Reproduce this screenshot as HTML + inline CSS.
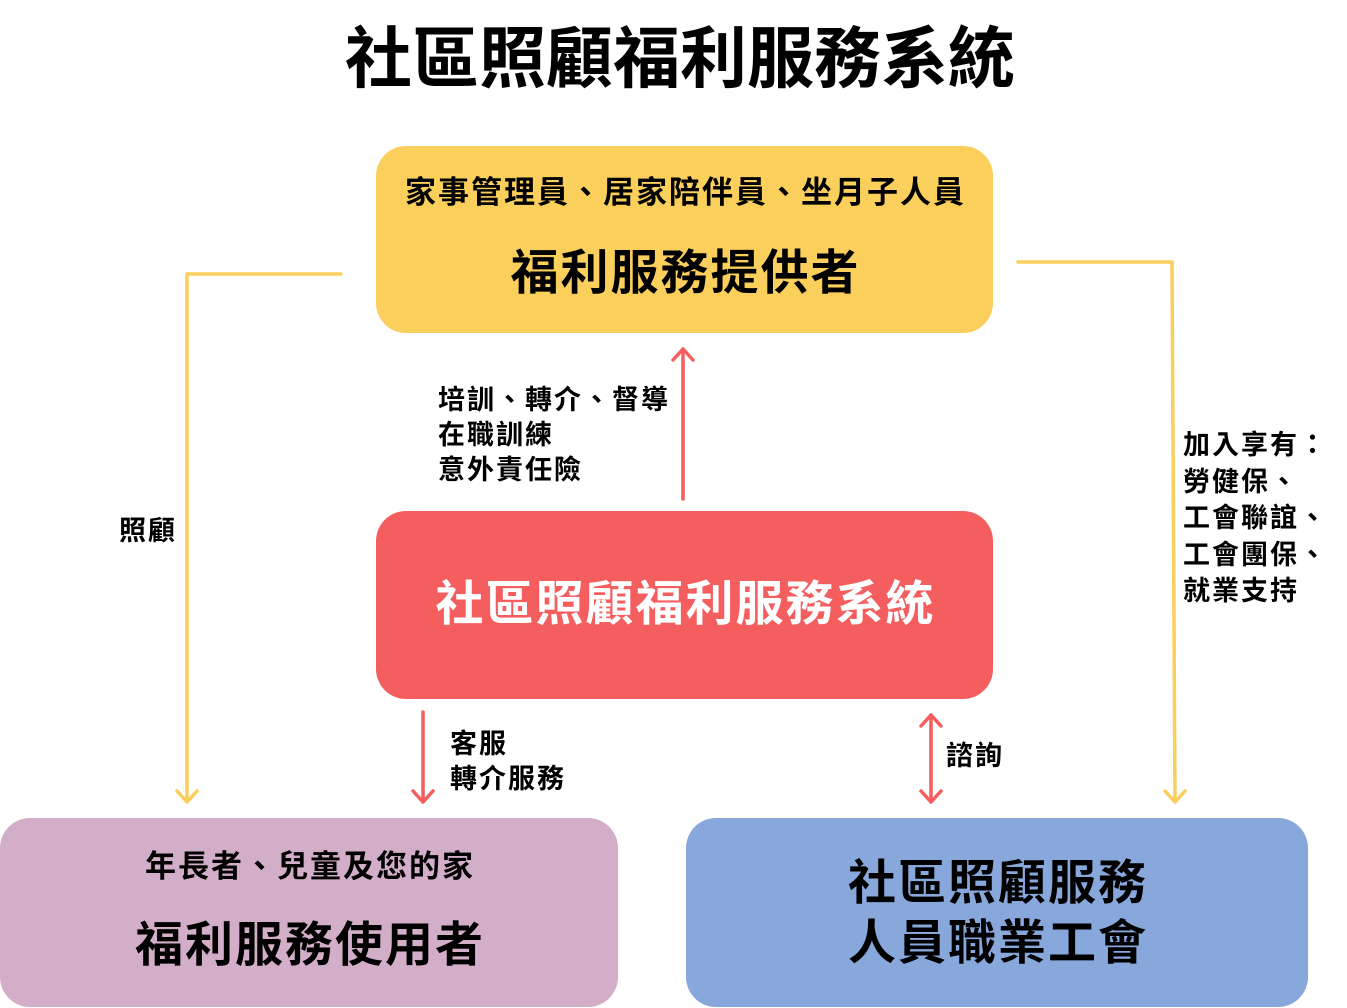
<!DOCTYPE html>
<html><head><meta charset="utf-8"><style>
body{margin:0;width:1347px;height:1008px;background:#fff;position:relative;overflow:hidden;font-family:"Liberation Sans","Noto Sans CJK TC",sans-serif;font-weight:bold;color:#000}
.a{position:absolute;white-space:nowrap}
.box{position:absolute;border-radius:30px}
.c{text-align:center}
.big{font-size:48px;line-height:60px;letter-spacing:2px}
.sub{font-size:31px;line-height:40px;letter-spacing:2px}
.lb{font-size:27px;line-height:35px;letter-spacing:2px}
</style></head><body>
<div class="a c" style="left:0;width:1360px;top:20px;font-size:67px;line-height:80px">社區照顧福利服務系統</div>

<div class="box" style="left:376px;top:146px;width:617px;height:187px;background:#FBCF5B"></div>
<div class="a c sub" style="left:376px;width:619px;top:173px">家事管理員、居家陪伴員、坐月子人員</div>
<div class="a c big" style="left:376px;width:619px;top:244px">福利服務提供者</div>

<div class="box" style="left:376px;top:511px;width:617px;height:188px;background:#F55E5F"></div>
<div class="a c big" style="left:376px;width:619px;top:575px;color:#fff">社區照顧福利服務系統</div>

<div class="box" style="left:0;top:818px;width:618px;height:189px;background:#D3AEC8"></div>
<div class="a c sub" style="left:0;width:620px;top:847px">年長者、兒童及您的家</div>
<div class="a c big" style="left:0;width:620px;top:916px">福利服務使用者</div>

<div class="box" style="left:686px;top:818px;width:622px;height:189px;background:#88A8DB"></div>
<div class="a c big" style="left:686px;width:624px;top:854px">社區照顧服務<br>人員職業工會</div>

<div class="a lb" style="left:438px;top:383px">培訓、轉介、督導<br>在職訓練<br>意外責任險</div>
<div class="a lb" style="left:119px;top:514px">照顧</div>
<div class="a lb" style="left:450px;top:727px">客服<br>轉介服務</div>
<div class="a lb" style="left:946px;top:739px">諮詢</div>
<div class="a lb" style="left:1183px;top:427px;line-height:36.5px">加入享有：<br>勞健保、<br>工會聯誼、<br>工會團保、<br>就業支持</div>

<svg class="a" style="left:0;top:0" width="1347" height="1008" fill="none" stroke-linecap="round" stroke-linejoin="round">
<g stroke="#FBCF5B" stroke-width="3.5">
<polyline points="341,274 187,274 187,802"/>
<polyline points="177,791 187,802 197,791"/>
<polyline points="1018,262 1172,262 1175,802"/>
<polyline points="1165,791 1175,802 1185,791"/>
</g>
<g stroke="#F55E5F" stroke-width="3.5">
<line x1="683" y1="499" x2="683" y2="349"/>
<polyline points="673,360 683,349 693,360"/>
<line x1="423" y1="712" x2="423" y2="802"/>
<polyline points="413,791 423,802 433,791"/>
<line x1="931" y1="715" x2="931" y2="802"/>
<polyline points="921,726 931,715 941,726"/>
<polyline points="921,791 931,802 941,791"/>
</g>
</svg>
</body></html>
